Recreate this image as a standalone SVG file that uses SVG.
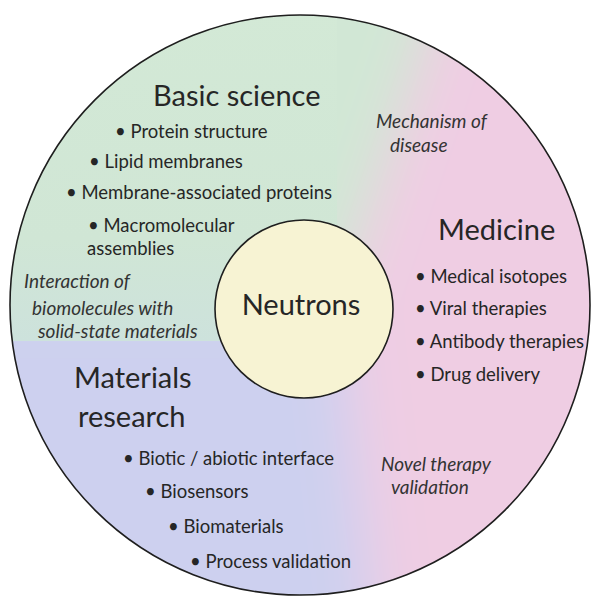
<svg xmlns="http://www.w3.org/2000/svg" width="591" height="599" viewBox="0 0 591 599">
<style>
.t{font-family:Lato,"Open Sans","Liberation Sans",sans-serif;fill:#262626}
.h{font-size:29px}
.b{font-size:18.5px}
.i{font-size:19px;font-style:italic;fill:#333}
.ring{fill:none;stroke:#1e1e1e;stroke-width:1.6}
</style>
<defs>
<clipPath id="outer"><circle cx="300" cy="305" r="290"/></clipPath>
<filter id="soft" x="-20%" y="-20%" width="140%" height="140%"><feGaussianBlur stdDeviation="28"/></filter>
<linearGradient id="gbox" x1="0" y1="0" x2="0" y2="1">
<stop offset="0" stop-color="#d3e9d6"/>
<stop offset="0.7" stop-color="#d0e6d5"/>
<stop offset="1" stop-color="#cde2dc"/>
</linearGradient>
</defs>
<rect width="591" height="599" fill="#fff"/>
<g id="background" clip-path="url(#outer)">
<g filter="url(#soft)">
<polygon points="-60,-60 460,-60 340,300 -60,300" fill="#d1e7d5"/>
<polygon points="460,-60 660,-60 660,660 380,660 340,300" fill="#efcde3"/>
<polygon points="-60,300 340,300 380,660 -60,660" fill="#cdd0ef"/>
</g>
<rect x="0" y="0" width="337" height="341" fill="url(#gbox)"/>
</g>
<circle class="ring" cx="300" cy="305" r="290"/>
<g id="basic-science">
<text class="t h" x="153" y="106">Basic science</text>
<text class="t b" x="115" y="138">• Protein structure</text>
<text class="t b" x="89" y="168">• Lipid membranes</text>
<text class="t b" x="66" y="199">• Membrane-associated proteins</text>
<text class="t b" x="88" y="232">• Macromolecular</text>
<text class="t b" x="87" y="255">assemblies</text>
</g>
<g id="mechanism-of-disease">
<text class="t i" x="376" y="128">Mechanism of</text>
<text class="t i" x="390" y="152">disease</text>
</g>
<g id="medicine">
<text class="t h" x="438" y="240">Medicine</text>
<text class="t b" x="415" y="283">• Medical isotopes</text>
<text class="t b" x="415" y="315">• Viral therapies</text>
<text class="t b" x="415" y="348">• Antibody therapies</text>
<text class="t b" x="415" y="381">• Drug delivery</text>
</g>
<g id="interaction">
<text class="t i" x="24" y="288">Interaction of</text>
<text class="t i" x="32" y="315">biomolecules with</text>
<text class="t i" x="38" y="338">solid-state materials</text>
</g>
<g id="neutrons">
<circle cx="304" cy="309" r="89" fill="#f7f3d3" stroke="#1e1e1e" stroke-width="1.6"/>
<text class="t" x="301" y="315" font-size="29" text-anchor="middle">Neutrons</text>
</g>
<g id="materials-research">
<text class="t h" x="74" y="388">Materials</text>
<text class="t h" x="78" y="427">research</text>
<text class="t b" x="123" y="465">• Biotic / abiotic interface</text>
<text class="t b" x="145" y="498">• Biosensors</text>
<text class="t b" x="168" y="533">• Biomaterials</text>
<text class="t b" x="190" y="568">• Process validation</text>
</g>
<g id="novel-therapy-validation">
<text class="t i" x="381" y="471">Novel therapy</text>
<text class="t i" x="391" y="494">validation</text>
</g>
</svg>
